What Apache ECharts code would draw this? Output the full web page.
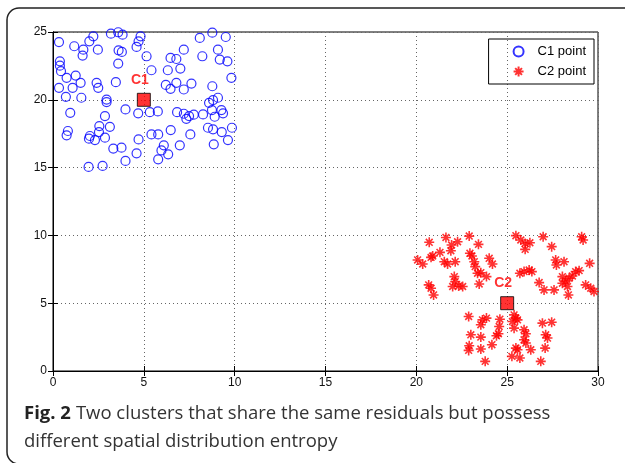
<!DOCTYPE html>
<html>
<head>
<meta charset="utf-8">
<script src="https://cdn.jsdelivr.net/npm/echarts@6/dist/echarts.min.js"></script>
<style>html,body{margin:0;padding:0;background:#fff;}#c{width:625px;height:463px;}</style>
</head>
<body>
<div id="c"></div>
<script>
// C1 cluster points (x, y)
const c1Points = [
[0.33,24.26],[1.17,23.95],[1.63,23.26],[1.67,23.70],[2.00,24.31],[2.22,24.68],[2.47,23.70],[3.19,24.88],
[3.59,24.98],[3.83,24.80],[3.61,23.65],[3.79,23.53],[3.59,22.67],[4.60,23.90],[4.71,24.31],[4.82,24.68],
[5.15,23.21],[5.42,22.18],[6.32,22.18],[6.47,23.09],[6.79,23.01],[7.01,22.30],[7.20,23.70],[8.08,24.56],
[8.77,24.95],[9.51,24.63],[8.22,23.21],[9.08,23.70],[9.18,22.97],[9.60,22.84],[9.82,21.62],[0.38,22.84],
[0.38,22.52],[0.44,22.11],[0.75,21.62],[1.25,21.79],[1.08,20.88],[0.33,20.88],[1.52,21.25],[2.40,21.25],
[2.49,20.88],[3.46,21.30],[0.71,20.22],[1.56,20.15],[2.95,20.02],[2.95,19.83],[0.95,19.04],[3.99,19.29],
[4.69,19.00],[2.86,18.80],[2.55,18.06],[3.13,18.01],[0.82,17.70],[0.75,17.38],[2.03,17.33],[1.98,17.13],
[2.31,17.03],[2.53,17.62],[2.86,17.21],[3.32,16.40],[3.77,16.47],[4.71,17.08],[3.99,15.49],[4.60,16.05],
[1.96,15.05],[2.73,15.12],[5.33,19.09],[5.77,19.14],[6.21,21.10],[6.47,20.81],[6.79,21.25],[7.20,20.76],
[7.62,21.20],[5.42,17.45],[5.79,17.45],[6.10,16.64],[5.97,16.27],[6.34,15.98],[5.79,15.61],[6.48,17.77],
[6.98,16.64],[6.83,19.09],[7.20,18.97],[7.34,18.60],[7.49,18.80],[7.75,18.90],[8.26,18.92],[8.53,17.94],
[8.81,17.82],[8.90,18.75],[8.75,19.24],[8.81,19.98],[9.08,20.15],[8.59,19.78],[8.77,21.00],[9.27,19.24],
[9.36,19.00],[7.56,17.45],[8.85,16.72],[9.29,17.62],[9.63,17.03],[9.85,17.94]
];
// C2 cluster points (x, y)
const c2Points = [
[20.71,9.49],[21.63,9.85],[21.94,9.29],[22.27,9.53],[22.91,9.95],[23.42,9.34],[21.90,8.87],[21.30,8.75],
[20.90,8.48],[20.81,8.38],[20.07,8.19],[20.35,7.89],[21.54,8.06],[21.72,7.89],[22.14,8.06],[22.95,8.68],
[23.06,8.48],[23.19,8.06],[23.24,7.70],[23.37,7.21],[24.01,8.31],[24.19,7.89],[23.55,7.25],[23.86,6.96],
[22.09,6.96],[22.14,6.59],[22.00,6.23],[22.33,6.27],[22.55,6.23],[20.68,6.35],[20.81,6.10],[20.95,5.61],
[23.46,6.42],[25.48,9.98],[25.75,9.66],[25.99,9.41],[26.25,9.46],[25.99,8.97],[26.98,9.90],[27.45,9.17],
[29.10,9.90],[29.18,9.66],[27.67,8.19],[27.71,7.82],[28.13,8.06],[29.54,7.94],[25.70,7.21],[25.93,7.33],
[26.21,7.45],[26.36,7.33],[26.76,6.52],[27.03,5.98],[27.58,5.98],[28.04,6.96],[28.04,6.47],[28.22,6.64],
[28.41,6.84],[28.59,7.01],[28.77,7.33],[28.96,7.40],[28.32,6.23],[28.37,5.61],[29.32,6.35],[29.60,6.10],
[29.78,5.86],[22.88,4.02],[23.64,3.77],[23.86,3.90],[24.60,3.82],[25.38,4.14],[25.48,3.90],[25.29,3.65],
[25.57,3.77],[23.55,3.41],[24.56,3.28],[25.38,3.16],[25.93,3.04],[26.94,3.53],[27.45,3.60],[23.00,2.67],
[23.55,2.50],[24.52,2.75],[24.41,2.60],[26.03,2.75],[25.93,2.30],[27.12,2.67],[27.22,2.43],[24.16,1.94],
[22.91,1.86],[22.88,1.52],[23.55,1.62],[25.48,1.69],[25.57,1.57],[26.30,1.57],[26.03,2.06],[27.09,1.69],
[23.79,0.71],[25.26,1.08],[25.70,0.96],[26.85,0.71]
];
const centers = [{name:'C1', value:[5,20]},{name:'C2', value:[25,5]}];
const seriesNames = ['C1 point','C2 point'];
const xTicks = [0,5,10,15,20,25,30];
const yTicks = [0,5,10,15,20,25];

const chart = echarts.init(document.getElementById('c'));
const axFont = {fontFamily:'Liberation Sans, Arial, sans-serif', fontSize:12, color:'#111'};
const starPath = 'path://M5,0L5,10M0,5L10,5M1.6,1.6L8.4,8.4M1.6,8.4L8.4,1.6';
chart.setOption({
  animation:false,
  backgroundColor:'#fff',
  grid:{left:53, right:27, top:32, bottom:92, show:true, borderColor:'#000', borderWidth:1},
  xAxis:[
    {type:'value', min:xTicks[0], max:xTicks[xTicks.length-1], interval:5,
     axisLine:{lineStyle:{color:'#000'}}, axisTick:{inside:true,length:5,lineStyle:{color:'#000'}},
     axisLabel:Object.assign({margin:6}, axFont),
     splitLine:{show:true,lineStyle:{color:'#666',type:[1,3],width:1}}},
    {type:'value', position:'top', min:0, max:30, interval:5,
     axisLine:{lineStyle:{color:'#000'}}, axisTick:{inside:true,length:5,lineStyle:{color:'#000'}},
     axisLabel:{show:false}, splitLine:{show:false}}
  ],
  yAxis:[
    {type:'value', min:yTicks[0], max:yTicks[yTicks.length-1], interval:5,
     axisLine:{show:true,lineStyle:{color:'#000'}}, axisTick:{show:true,inside:true,length:5,lineStyle:{color:'#000'}},
     axisLabel:Object.assign({margin:6}, axFont),
     splitLine:{show:true,lineStyle:{color:'#666',type:[1,3],width:1}}},
    {type:'value', position:'right', min:0, max:25, interval:5,
     axisLine:{show:true,lineStyle:{color:'#000'}}, axisTick:{show:true,inside:true,length:5,lineStyle:{color:'#000'}},
     axisLabel:{show:false}, splitLine:{show:false}}
  ],
  legend:{
    data:seriesNames, orient:'vertical', right:31, top:39,
    borderColor:'#000', borderWidth:1, padding:[6,8,6,24], itemGap:7,
    itemWidth:12, itemHeight:10,
    textStyle:{fontFamily:'Liberation Sans, Arial, sans-serif', fontSize:13, color:'#000', padding:[0,0,0,8]}
  },
  title:{
    left:24, top:400, padding:0,
    text:'{b|Fig. 2} {n|Two clusters that share the same residuals but possess}\n{n|different spatial distribution entropy}',
    textStyle:{
      fontWeight:'normal',
      rich:{
        b:{fontFamily:'Open Sans, sans-serif', fontWeight:'bold', fontSize:18.5, color:'#222', lineHeight:28},
        n:{fontFamily:'Open Sans, sans-serif', fontWeight:'normal', fontSize:18.5, color:'#333', lineHeight:28}
      }
    }
  },
  graphic:[{
    type:'rect', z:-1, silent:true,
    shape:{x:7, y:8, width:720, height:456, r:12},
    style:{fill:'none', stroke:'#222', lineWidth:1.5}
  }],
  series:[
    {name:seriesNames[0], type:'scatter', data:c1Points, symbol:'circle', symbolSize:9,
     itemStyle:{color:'rgba(255,255,255,0)', borderColor:'#0000ff', borderWidth:1.2}},
    {name:seriesNames[1], type:'scatter', data:c2Points, symbol:starPath, symbolSize:10,
     itemStyle:{color:'#ff0000', borderColor:'#ff0000', borderWidth:1.6}},
    {name:'centers', type:'scatter', data:centers, symbol:'rect', symbolSize:13, z:5,
     itemStyle:{color:'#ff0000', borderColor:'#000', borderWidth:1},
     label:{show:true, position:'top', formatter:'{b}', offset:[-4,-1], color:'#ff0000',
            fontWeight:'bold', fontSize:14, fontFamily:'Liberation Sans, Arial, sans-serif'}}
  ]
});
</script>
</body>
</html>
